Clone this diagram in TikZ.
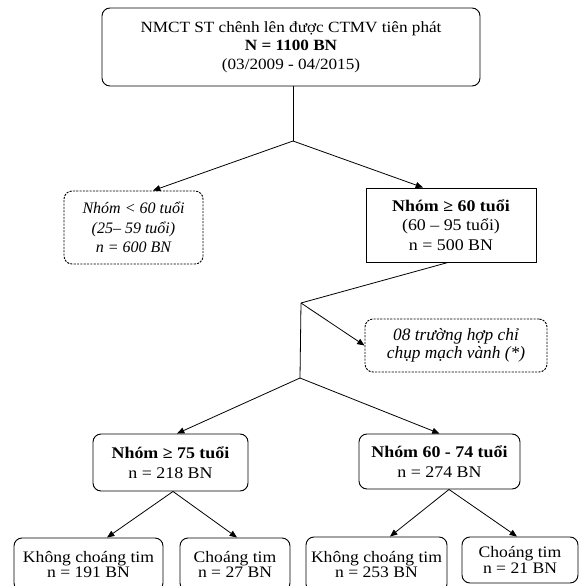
\documentclass[tikz,border=0pt]{standalone}
\usepackage{fontspec}
\setmainfont{Liberation Serif}[UprightFeatures={FakeStretch=1.1},BoldFeatures={FakeStretch=1.1}]
\usetikzlibrary{arrows.meta,calc}
\begin{document}
\begin{tikzpicture}[x=0.75pt,y=-0.75pt,
 box/.style={draw, line width=0.7pt, align=center, inner sep=0pt, font=\fontsize{12}{14}\selectfont},
 rbox/.style={box, rounded corners=6pt},
 dbox/.style={box, rounded corners=6pt, dash pattern=on 1.6pt off 0.9pt},
 sbox/.style={rbox, font=\fontsize{12}{11.5}\selectfont},
 conn/.style={line width=0.6pt},
 arr/.style={conn, -{Triangle[length=5.5pt,width=4.5pt]}},
]
\useasboundingbox (0,0) rectangle (581,586);
\node[rbox, minimum width=283.5pt, minimum height=58.5pt, font=\fontsize{11.7}{13.9}\selectfont] (top) at (291,47)
  {NMCT ST chênh lên được CTMV tiên phát\\\textbf{N = 1100 BN}\\(03/2009 - 04/2015)};
\node[dbox, minimum width=104.25pt, minimum height=54.75pt, font=\fontsize{12}{14.6}\selectfont\itshape] (left) at (133.5,227.5)
  {Nhóm < 60 tuổi\\(25– 59 tuổi)\\n = 600 BN};
\node[box, minimum width=127.5pt, minimum height=55.5pt, font=\fontsize{12.2}{14.6}\selectfont] (right) at (451,225)
  {\textbf{Nhóm ≥ 60 tuổi}\\(60 – 95 tuổi)\\n = 500 BN};
\node[dbox, minimum width=136.5pt, minimum height=39.75pt, font=\fontsize{13}{13.5}\selectfont\itshape] (note) at (456,345.5)
  {08 trường hợp chỉ\\chụp mạch vành (*)};
\node[rbox, minimum width=116.25pt, minimum height=42.75pt, font=\fontsize{12.2}{15}\selectfont] (g75) at (170.5,462.5)
  {\textbf{Nhóm ≥ 75 tuổi}\\n = 218 BN};
\node[rbox, minimum width=120.75pt, minimum height=41.25pt, font=\fontsize{12.2}{15}\selectfont] (g60) at (439.5,461.5)
  {\textbf{Nhóm 60 - 74 tuổi}\\n = 274 BN};
\node[sbox, minimum width=111.75pt, minimum height=39.75pt] (b1) at (88.5,564.5)
  {Không choáng tim\\n = 191 BN};
\node[sbox, minimum width=82.5pt, minimum height=39.75pt] (b2) at (235,564.5)
  {Choáng tim\\n = 27 BN};
\node[sbox, minimum width=105.75pt, minimum height=41.25pt] (b3) at (376.5,564.5)
  {Không choáng tim\\n = 253 BN};
\node[sbox, minimum width=87pt, minimum height=34.5pt] (b4) at (520,560)
  {Choáng tim\\n = 21 BN};
\coordinate (j1) at (293,141);
\coordinate (j2) at (301,303);
\coordinate (j3) at (300,378);
\draw[conn] (top.south -| j1) -- (j1);
\draw[arr] (j1) -- ($(left.north)+(19.5,0)$);
\draw[arr] (j1) -- ($(right.north)+(-28,0)$);
\draw[conn] ($(right.south)+(-3,0)$) -- (j2);
\draw[arr] (j2) -- (note.west);
\draw[conn] (j2) -- (j3);
\draw[arr] (j3) -- ($(g75.north)+(6.5,0)$);
\draw[arr] (j3) -- (g60.north);
\draw[arr] ($(g75.south)+(2.5,0)$) -- ($(b1.north)+(18.5,0)$);
\draw[arr] ($(g75.south)+(2.5,0)$) -- ($(b2.north)+(2,0)$);
\draw[arr] ($(g60.south)+(9.5,0)$) -- ($(b3.north)+(13.5,0)$);
\draw[arr] ($(g60.south)+(9.5,0)$) -- ($(b4.north)+(-3,0)$);
\end{tikzpicture}
\end{document}
